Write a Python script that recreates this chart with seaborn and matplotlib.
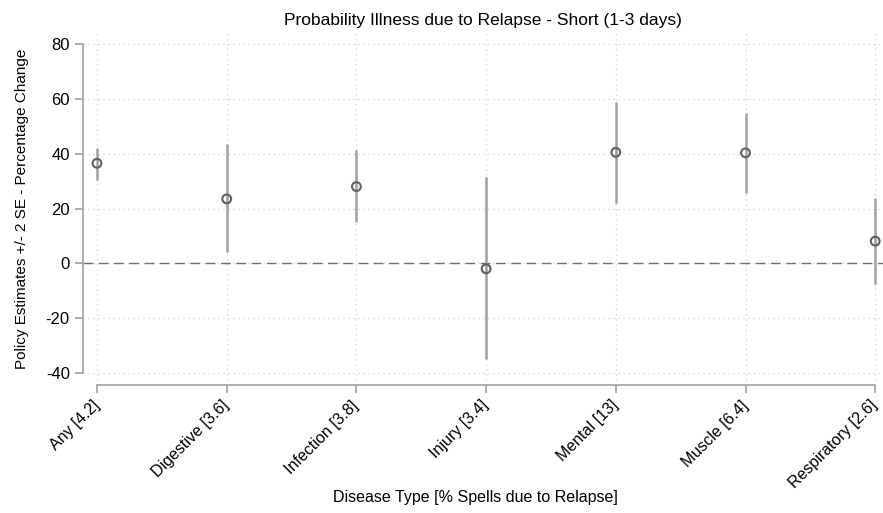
import pandas as pd
import numpy as np
import matplotlib.pyplot as plt
import seaborn as sns

sns.set_style("white")
plt.rcParams['font.family'] = ['Liberation Sans', 'DejaVu Sans']
plt.rcParams['text.color'] = 'black'
plt.rcParams['axes.labelcolor'] = 'black'

# Data
categories = ['Any [4.2]', 'Digestive [3.6]', 'Infection [3.8]', 'Injury [3.4]',
              'Mental [13]', 'Muscle [6.4]', 'Respiratory [2.6]']
estimate = [36.5, 23.5, 28.0, -2.0, 40.5, 40.3, 8.1]
ci_low = [30.5, 4.0, 15.0, -35.0, 22.0, 25.7, -7.7]
ci_high = [42.0, 43.5, 41.5, 31.5, 59.0, 55.0, 24.0]
yticks = [-40, -20, 0, 20, 40, 60, 80]

df = pd.DataFrame({'cat': categories, 'est': estimate, 'lo': ci_low, 'hi': ci_high})
df['pos'] = np.arange(len(df))

fig = plt.figure(figsize=(8.83, 5.13), dpi=100)
ax = fig.add_axes([83 / 883, 128 / 513, 800 / 883, 353 / 513])

line_col = '#a0a0a0'
mark_col = '#606060'

# grid
for y in yticks:
    ax.axhline(y, color='#d0d0d0', linestyle=(0, (1, 3)), linewidth=0.9, zorder=0)
for x in df['pos']:
    ax.axvline(x, color='#d0d0d0', linestyle=(0, (1, 3)), linewidth=0.9, zorder=0)

# zero line
ax.axhline(0, color='#707070', linestyle=(0, (7, 4)), linewidth=1.0, zorder=1)

# confidence intervals
ax.vlines(df['pos'], df['lo'], df['hi'], color=line_col, linewidth=1.8, zorder=2)

# point estimates
sns.scatterplot(data=df, x='pos', y='est', ax=ax, marker='o', s=40,
                facecolor='none', edgecolor=mark_col, linewidth=1.5, zorder=3, legend=False)

ax.set_xlim(-0.108, 6.06)
ax.set_ylim(-44.4, 84.4)
ax.set_yticks(yticks)
ax.set_yticklabels([str(v) for v in yticks], fontsize=12)
ax.set_xticks(df['pos'])
ax.set_xticklabels(df['cat'], rotation=45, ha='right', va='center',
                   rotation_mode='anchor', fontsize=11.5)

ax.spines['top'].set_visible(False)
ax.spines['right'].set_visible(False)
for s in ['left', 'bottom']:
    ax.spines[s].set_color('#a0a0a0')
    ax.spines[s].set_linewidth(1.2)
ax.spines['left'].set_bounds(-40, 80)
ax.spines['bottom'].set_bounds(0, 6)
ax.tick_params(axis='both', which='both', length=6, width=1.2, color='#a0a0a0',
               left=True, bottom=True, labelcolor='black')
ax.tick_params(axis='x', pad=7)

ax.set_xlabel('Disease Type [% Spells due to Relapse]', fontsize=11.5)
ax.xaxis.set_label_coords(0.491, -0.297)
ax.set_ylabel('Policy Estimates +/- 2 SE - Percentage Change', fontsize=11)
ax.yaxis.set_label_coords(-0.068, 0.5)
ax.set_title('Probability Illness due to Relapse - Short (1-3 days)', fontsize=12.5, pad=5)

fig.savefig('out.png', dpi=100)
